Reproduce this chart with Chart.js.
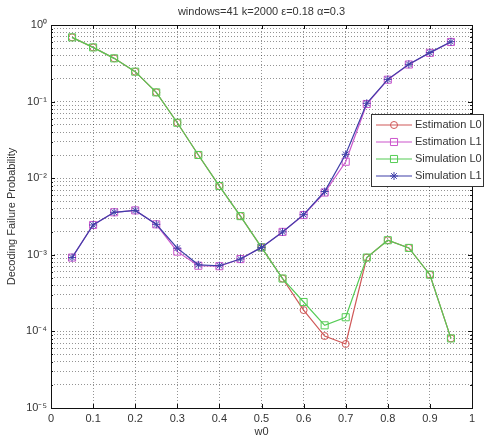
<!DOCTYPE html>
<html>
<head>
<meta charset="utf-8">
<script src="https://cdn.jsdelivr.net/npm/chart.js@4/dist/chart.umd.min.js"></script>
<style>
  html, body { margin:0; padding:0; background:#fff; }
  #wrap { width:488px; height:443px; }
</style>
</head>
<body>
<div id="wrap"><canvas id="failChart" width="488" height="443"></canvas></div>
<script>
// ── Data ──
const w0 = [0.05, 0.1, 0.15, 0.2, 0.25, 0.3, 0.35, 0.4, 0.45, 0.5,
            0.55, 0.6, 0.65, 0.7, 0.75, 0.8, 0.85, 0.9, 0.95];

const estimationL0 = [0.69, 0.51, 0.367, 0.246, 0.132, 0.053, 0.0201, 0.0079, 0.0032, 0.00125,
                      0.00049, 1.9e-4, 8.7e-5, 6.85e-5, 9.2e-4, 1.55e-3, 1.23e-3, 5.5e-4, 8.1e-5];
const estimationL1 = [9.2e-4, 2.45e-3, 3.59e-3, 3.8e-3, 2.5e-3, 1.1e-3, 7.2e-4, 7.1e-4, 8.8e-4, 1.25e-3,
                      1.99e-3, 3.3e-3, 6.5e-3, 0.0164, 0.093, 0.193, 0.305, 0.433, 0.6];
const simulationL0 = [0.69, 0.51, 0.367, 0.246, 0.132, 0.053, 0.0201, 0.0079, 0.0032, 0.00125,
                      0.00049, 2.42e-4, 1.2e-4, 1.53e-4, 9.2e-4, 1.55e-3, 1.23e-3, 5.5e-4, 8.1e-5];
const simulationL1 = [9.2e-4, 2.45e-3, 3.59e-3, 3.8e-3, 2.5e-3, 1.22e-3, 7.4e-4, 7.2e-4, 8.8e-4, 1.25e-3,
                      1.99e-3, 3.34e-3, 6.7e-3, 0.0205, 0.095, 0.195, 0.307, 0.436, 0.605];

const xTicks      = [0, 0.1, 0.2, 0.3, 0.4, 0.5, 0.6, 0.7, 0.8, 0.9, 1];
const xTickLabels = ['0', '0.1', '0.2', '0.3', '0.4', '0.5', '0.6', '0.7', '0.8', '0.9', '1'];
const yDecades    = [1e-5, 1e-4, 1e-3, 1e-2, 1e-1, 1];
const yTickLabels = ['10⁻⁵', '10⁻⁴', '10⁻³', '10⁻²', '10⁻¹', '10⁰'];

const FONT = '"Liberation Sans", Arial, Helvetica, sans-serif';
const TXT  = '#333';

// minor log grid: 1..9 inside every decade
const yGrid = [];
yDecades.forEach((d, i) => {
  if (i === yDecades.length - 1) { yGrid.push(d); return; }
  for (let k = 1; k <= 9; k++) yGrid.push(k === 1 ? d : d * k);
});

const series = [
  { label: 'Estimation L0', values: estimationL0, color: '#d05858', style: 'circle', r: 3.5, order: 3 },
  { label: 'Estimation L1', values: estimationL1, color: '#cc55cc', style: 'rect',   r: 5,   order: 2 },
  { label: 'Simulation L0', values: simulationL0, color: '#55cc55', style: 'rect',   r: 5,   order: 1 },
  { label: 'Simulation L1', values: simulationL1, color: '#3f3fa8', style: 'star',   r: 4,   order: 0 }
];

// ── marker for the hand drawn legend ──
function drawMarker(ctx, style, r, x, y){
  ctx.beginPath();
  if(style === 'circle'){
    ctx.arc(x, y, r, 0, Math.PI * 2);
  } else if(style === 'rect'){
    const s = r * Math.SQRT1_2;
    ctx.rect(x - s, y - s, s * 2, s * 2);
  } else {
    for(let a = 0; a < 4; a++){
      const ang = a * Math.PI / 4;
      ctx.moveTo(x - Math.cos(ang) * r, y - Math.sin(ang) * r);
      ctx.lineTo(x + Math.cos(ang) * r, y + Math.sin(ang) * r);
    }
  }
  ctx.stroke();
}

// ── frame, inner ticks, title, legend ──
const matlabFrame = {
  id: 'matlabFrame',
  beforeDatasetsDraw(chart){
    const { ctx, chartArea: { left, right, top, bottom } } = chart;
    const xs = chart.scales.x, ys = chart.scales.y;
    ctx.save();
    ctx.strokeStyle = '#111';
    ctx.lineWidth = 1;
    ctx.setLineDash([]);
    ctx.strokeRect(Math.round(left) + 0.5, Math.round(top) + 0.5,
                   Math.round(right - left), Math.round(bottom - top));
    ctx.beginPath();
    xs.ticks.forEach(t => {
      const px = Math.round(xs.getPixelForValue(t.value)) + 0.5;
      ctx.moveTo(px, bottom); ctx.lineTo(px, bottom - 4);
      ctx.moveTo(px, top);    ctx.lineTo(px, top + 4);
    });
    ys.ticks.forEach(t => {
      const py = Math.round(ys.getPixelForValue(t.value)) + 0.5;
      const len = yDecades.includes(t.value) ? 4 : 2;
      ctx.moveTo(left, py);  ctx.lineTo(left + len, py);
      ctx.moveTo(right, py); ctx.lineTo(right - len, py);
    });
    ctx.stroke();
    ctx.restore();
  },
  afterDraw(chart){
    const { ctx, chartArea: { left, right } } = chart;
    ctx.save();
    // title
    ctx.fillStyle = TXT;
    ctx.font = '11px ' + FONT;
    ctx.textAlign = 'center';
    ctx.textBaseline = 'middle';
    ctx.fillText('windows=41 k=2000 ε=0.18 α=0.3', (left + right) / 2, 12);

    // legend
    const bx = 371.5, by = 114.5, bw = 112, bh = 72;
    ctx.fillStyle = '#fff';
    ctx.fillRect(bx, by, bw, bh);
    ctx.strokeStyle = '#333';
    ctx.lineWidth = 1;
    ctx.strokeRect(bx, by, bw, bh);
    series.forEach((s, i) => {
      const y = 125 + i * 17;
      ctx.strokeStyle = s.color;
      ctx.lineWidth = 1.2;
      ctx.beginPath();
      ctx.moveTo(376, y); ctx.lineTo(412, y);
      ctx.stroke();
      ctx.lineWidth = 1;
      drawMarker(ctx, s.style, s.r, 394, y);
      ctx.fillStyle = TXT;
      ctx.textAlign = 'left';
      ctx.fillText(s.label, 415, y);
    });
    ctx.restore();
  }
};

const gridOpts = { color: 'rgba(0,0,0,0.42)', lineWidth: 1, drawTicks: false };

new Chart(document.getElementById('failChart'), {
  type: 'line',
  data: {
    datasets: series.map(s => ({
      label: s.label,
      data: w0.map((x, i) => ({ x, y: s.values[i] })),
      borderColor: s.color,
      backgroundColor: 'rgba(0,0,0,0)',
      borderWidth: 1.2,
      pointStyle: s.style,
      pointRadius: s.r,
      pointBorderColor: s.color,
      pointBorderWidth: 1,
      pointBackgroundColor: 'rgba(0,0,0,0)',
      tension: 0,
      order: s.order
    }))
  },
  options: {
    responsive: false,
    animation: false,
    layout: { padding: { top: 25, right: 16, left: 0, bottom: 0 } },
    plugins: {
      legend: { display: false },
      title: { display: false },
      tooltip: { enabled: false }
    },
    scales: {
      x: {
        type: 'linear',
        min: 0, max: 1,
        afterBuildTicks: scale => { scale.ticks = xTicks.map(v => ({ value: v })); },
        afterFit: scale => { scale.height = 35; },
        ticks: {
          autoSkip: false, maxRotation: 0, padding: 4,
          color: TXT, font: { family: FONT, size: 11 },
          callback: (v, i) => xTickLabels[i]
        },
        grid: gridOpts,
        border: { display: false, dash: [1, 2] },
        title: {
          display: true, text: 'w0', color: TXT,
          font: { family: FONT, size: 11 },
          padding: { top: 0, bottom: 4 }
        }
      },
      y: {
        type: 'logarithmic',
        min: 1e-5, max: 1,
        afterBuildTicks: scale => { scale.ticks = yGrid.map(v => ({ value: v })); },
        afterFit: scale => { scale.width = 51; },
        ticks: {
          autoSkip: false, padding: 4,
          color: TXT, font: { family: FONT, size: 11 },
          callback: v => {
            const i = yDecades.indexOf(v);
            return i >= 0 ? yTickLabels[i] : '';
          }
        },
        grid: gridOpts,
        border: { display: false, dash: [1, 2] },
        title: {
          display: true, text: 'Decoding Failure Probability', color: TXT,
          font: { family: FONT, size: 11 },
          padding: { top: 5, bottom: 0 }
        }
      }
    }
  },
  plugins: [matlabFrame]
});
</script>
</body>
</html>
